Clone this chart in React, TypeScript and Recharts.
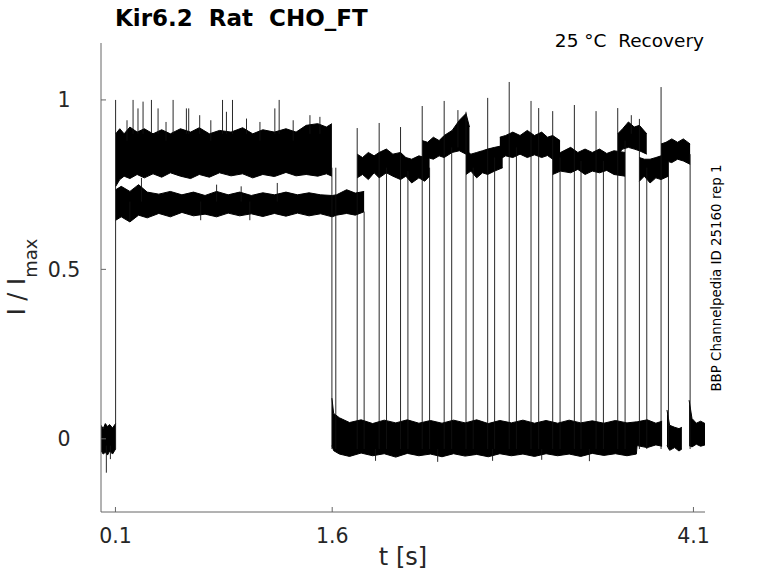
import { Area, ComposedChart, Line, XAxis, YAxis } from 'recharts'

// [t (s), low, high]
type Seg = [number, number, number]

const xTicks = [0.1, 1.6, 4.1]
const yTicks = [0, 0.5, 1]

// noise envelopes of the baseline (closed channel)
const baselinePre: Seg[] = [
  [0, -0.035, 0.04],
  [0.015, -0.045, 0.03],
  [0.03, -0.04, 0.045],
  [0.045, -0.048, 0.036],
  [0.06, -0.036, 0.042],
  [0.08, -0.045, 0.032],
  [0.101, -0.03, 0.045],
]
const baselinePost: Seg[] = [
  [1.598, -0.02, 0.12],
  [1.61, -0.035, 0.075],
  [1.65, -0.045, 0.062],
  [1.72, -0.052, 0.048],
  [1.8, -0.042, 0.056],
  [1.88, -0.05, 0.045],
  [1.96, -0.044, 0.055],
  [2.04, -0.054, 0.047],
  [2.12, -0.043, 0.056],
  [2.2, -0.05, 0.046],
  [2.28, -0.045, 0.054],
  [2.36, -0.053, 0.046],
  [2.44, -0.044, 0.055],
  [2.52, -0.051, 0.047],
  [2.6, -0.046, 0.056],
  [2.68, -0.053, 0.045],
  [2.76, -0.044, 0.054],
  [2.84, -0.05, 0.047],
  [2.92, -0.045, 0.055],
  [3.0, -0.052, 0.046],
  [3.08, -0.044, 0.054],
  [3.16, -0.05, 0.046],
  [3.24, -0.045, 0.055],
  [3.32, -0.052, 0.047],
  [3.4, -0.043, 0.053],
  [3.48, -0.049, 0.046],
  [3.56, -0.044, 0.054],
  [3.64, -0.05, 0.047],
  [3.705, -0.045, 0.05],
  [3.71, -0.02, 0.05],
  [3.78, -0.026, 0.056],
  [3.84, -0.018, 0.046],
  [3.883, -0.022, 0.052],
]
const baselineTail1: Seg[] = [
  [3.917, -0.02, 0.085],
  [3.935, -0.034, 0.04],
  [3.97, -0.026, 0.034],
  [4.0, -0.036, 0.03],
  [4.02, -0.03, 0.034],
]
const baselineTail2: Seg[] = [
  [4.07, -0.02, 0.114],
  [4.09, -0.024, 0.06],
  [4.12, -0.016, 0.046],
  [4.15, -0.022, 0.052],
  [4.18, -0.018, 0.045],
]

// conditioning pulse, two sweeps
const sweepHigh: Seg[] = [
  [0.102, 0.745, 0.9],
  [0.13, 0.765, 0.915],
  [0.16, 0.775, 0.9],
  [0.2, 0.768, 0.92],
  [0.25, 0.78, 0.905],
  [0.3, 0.77, 0.915],
  [0.36, 0.782, 0.9],
  [0.42, 0.772, 0.912],
  [0.48, 0.785, 0.9],
  [0.55, 0.775, 0.915],
  [0.62, 0.768, 0.905],
  [0.68, 0.78, 0.918],
  [0.75, 0.772, 0.9],
  [0.82, 0.785, 0.91],
  [0.9, 0.776, 0.905],
  [0.98, 0.782, 0.918],
  [1.05, 0.77, 0.9],
  [1.12, 0.78, 0.912],
  [1.2, 0.774, 0.905],
  [1.28, 0.786, 0.915],
  [1.35, 0.776, 0.905],
  [1.42, 0.78, 0.925],
  [1.5, 0.775, 0.93],
  [1.56, 0.782, 0.92],
  [1.598, 0.775, 0.93],
]
const sweepLow: Seg[] = [
  [0.102, 0.645, 0.735],
  [0.14, 0.655, 0.745],
  [0.2, 0.64, 0.73],
  [0.26, 0.66, 0.75],
  [0.32, 0.652, 0.728],
  [0.4, 0.665, 0.722],
  [0.48, 0.655, 0.73],
  [0.56, 0.668, 0.72],
  [0.64, 0.658, 0.728],
  [0.72, 0.663, 0.718],
  [0.8, 0.655, 0.73],
  [0.88, 0.666, 0.72],
  [0.96, 0.658, 0.728],
  [1.04, 0.664, 0.718],
  [1.12, 0.656, 0.726],
  [1.2, 0.665, 0.72],
  [1.28, 0.657, 0.728],
  [1.36, 0.666, 0.72],
  [1.44, 0.658, 0.726],
  [1.52, 0.664, 0.72],
  [1.6, 0.655, 0.718],
  [1.63, 0.66, 0.72],
  [1.7, 0.665, 0.735],
  [1.76, 0.66, 0.725],
  [1.821, 0.67, 0.73],
]

// recovery test pulses
const test1: Seg[] = [
  [1.773, 0.77, 0.84],
  [1.81, 0.78, 0.83],
  [1.85, 0.765, 0.845],
  [1.89, 0.785, 0.835],
  [1.925, 0.77, 0.845],
  [1.975, 0.785, 0.855],
  [2.02, 0.775, 0.84],
  [2.073, 0.765, 0.845],
  [2.11, 0.775, 0.83],
  [2.15, 0.755, 0.825],
  [2.2, 0.77, 0.835],
  [2.24, 0.76, 0.83],
  [2.274, 0.775, 0.83],
]
const test2: Seg[] = [
  [2.223, 0.82, 0.88],
  [2.26, 0.83, 0.875],
  [2.3, 0.825, 0.89],
  [2.34, 0.835, 0.88],
  [2.375, 0.83, 0.895],
  [2.43, 0.845, 0.91],
  [2.48, 0.85, 0.94],
  [2.526, 0.84, 0.96],
  [2.55, 0.83, 0.92],
]
const test3: Seg[] = [
  [2.526, 0.78, 0.85],
  [2.56, 0.79, 0.84],
  [2.6, 0.77, 0.845],
  [2.64, 0.785, 0.85],
  [2.676, 0.78, 0.855],
  [2.724, 0.79, 0.86],
  [2.78, 0.8, 0.865],
]
const test4: Seg[] = [
  [2.76, 0.825, 0.89],
  [2.8, 0.835, 0.895],
  [2.85, 0.83, 0.905],
  [2.9, 0.84, 0.895],
  [2.95, 0.83, 0.91],
  [3.0, 0.838, 0.895],
  [3.05, 0.83, 0.905],
  [3.09, 0.836, 0.89],
  [3.126, 0.825, 0.895],
  [3.177, 0.82, 0.88],
]
const test5: Seg[] = [
  [3.126, 0.78, 0.85],
  [3.18, 0.79, 0.845],
  [3.25, 0.785, 0.86],
  [3.3, 0.795, 0.845],
  [3.35, 0.78, 0.855],
  [3.4, 0.79, 0.845],
  [3.45, 0.785, 0.855],
  [3.5, 0.792, 0.842],
  [3.55, 0.78, 0.85],
  [3.627, 0.775, 0.845],
]
const test6: Seg[] = [
  [3.576, 0.84, 0.9],
  [3.61, 0.855, 0.915],
  [3.65, 0.86, 0.935],
  [3.69, 0.855, 0.92],
  [3.726, 0.85, 0.925],
  [3.777, 0.84, 0.9],
]
const test7: Seg[] = [
  [3.726, 0.76, 0.83],
  [3.76, 0.775, 0.825],
  [3.8, 0.755, 0.825],
  [3.84, 0.77, 0.83],
  [3.876, 0.765, 0.835],
  [3.927, 0.775, 0.835],
]
const test8: Seg[] = [
  [3.876, 0.81, 0.87],
  [3.91, 0.82, 0.875],
  [3.95, 0.815, 0.885],
  [3.99, 0.825, 0.875],
  [4.03, 0.82, 0.885],
  [4.077, 0.81, 0.87],
]

// on/off transitions, with the capacitive spike where there is one
const steps: Seg[] = [
  [0.101, -0.03, 1.0],
  [1.598, -0.03, 0.8],
  [1.625, -0.03, 0.8],
  [1.773, -0.03, 0.917],
  [1.821, -0.03, 0.67],
  [1.925, -0.03, 0.932],
  [1.976, -0.03, 0.8],
  [2.073, -0.03, 0.92],
  [2.124, -0.03, 0.79],
  [2.223, -0.03, 0.982],
  [2.274, -0.03, 0.8],
  [2.375, -0.03, 0.997],
  [2.427, -0.03, 0.86],
  [2.526, -0.03, 0.965],
  [2.576, -0.03, 0.8],
  [2.676, -0.03, 1.006],
  [2.724, -0.03, 0.83],
  [2.825, -0.03, 1.053],
  [2.875, -0.03, 0.86],
  [2.976, -0.03, 0.997],
  [3.029, -0.03, 0.976],
  [3.126, -0.03, 0.967],
  [3.177, -0.03, 0.83],
  [3.276, -0.03, 0.985],
  [3.322, -0.03, 0.82],
  [3.426, -0.03, 0.967],
  [3.477, -0.03, 0.82],
  [3.576, -0.03, 0.976],
  [3.627, -0.03, 0.88],
  [3.726, -0.03, 0.944],
  [3.777, -0.03, 0.8],
  [3.876, -0.03, 1.038],
  [3.927, -0.03, 0.82],
  [4.077, -0.03, 0.84],
]

// single-sample noise spikes sticking out of the bands
const spikes: Seg[] = [
  [0.037, -0.1, -0.02],
  [0.065, -0.06, -0.02],
  [0.222, 0.9, 1.0],
  [0.256, 0.9, 0.975],
  [0.291, 0.9, 0.995],
  [0.349, 0.9, 1.0],
  [0.395, 0.9, 0.975],
  [0.499, 0.9, 1.0],
  [0.591, 0.9, 0.975],
  [0.607, 0.9, 0.975],
  [0.683, 0.9, 0.955],
  [0.841, 0.9, 1.0],
  [0.868, 0.9, 0.965],
  [0.91, 0.9, 1.0],
  [1.007, 0.9, 0.945],
  [1.203, 0.9, 0.975],
  [1.233, 0.9, 1.0],
  [1.446, 0.9, 0.955],
  [1.515, 0.9, 0.95],
  [0.18, 0.88, 0.94],
  [0.45, 0.88, 0.935],
  [0.76, 0.88, 0.94],
  [1.1, 0.88, 0.935],
  [1.33, 0.88, 0.94],
  [0.2, 0.64, 0.7],
  [0.28, 0.7, 0.77],
  [0.69, 0.645, 0.7],
  [0.8, 0.7, 0.75],
  [0.97, 0.7, 0.745],
  [1.03, 0.645, 0.7],
  [1.22, 0.7, 0.755],
  [1.9, -0.065, -0.03],
  [2.33, -0.068, -0.03],
  [2.71, -0.065, -0.03],
  [3.05, -0.062, -0.03],
  [3.38, -0.066, -0.03],
  [2.47, 0.86, 0.97],
  [3.67, 0.9, 0.955],
]

const bands = [
  baselinePre,
  baselinePost,
  baselineTail1,
  baselineTail2,
  sweepHigh,
  sweepLow,
  test1,
  test2,
  test3,
  test4,
  test5,
  test6,
  test7,
  test8,
]

const toBand = (seg: Seg[]) => seg.map(([t, lo, hi]) => ({ t, r: [lo, hi] }))
const toStrokes = (seg: Seg[]) =>
  seg.flatMap(([t, lo, hi]) => [
    { t, v: lo },
    { t, v: hi },
    { t, v: null },
  ])

const font = 'DejaVu Sans'
const axisGrey = '#666666'
const textGrey = '#262626'
const nb = '\u00a0'

const XTick = ({ x, payload }: any) => (
  <text x={x} y={543} textAnchor='middle' fontSize={20.5} fill={textGrey} fontFamily={font}>
    {payload.value}
  </text>
)

const YTick = ({ y, payload }: any) => (
  <text x={64} y={y} dy='0.36em' textAnchor='middle' fontSize={20.5} fill={textGrey} fontFamily={font}>
    {payload.value}
  </text>
)

export default function App() {
  return (
    <div style={{ position: 'relative', width: 778, height: 583, background: '#fff' }}>
      <style>{'body{margin:0}'}</style>
      <ComposedChart width={778} height={583} margin={{ top: 43, right: 73, bottom: 0, left: 0 }}>
        <XAxis
          type='number'
          dataKey='t'
          domain={[0, 4.18]}
          ticks={xTicks}
          allowDataOverflow
          height={71}
          stroke={axisGrey}
          tickSize={-5}
          tick={<XTick />}
        />
        <YAxis
          type='number'
          domain={[-0.216, 1.168]}
          ticks={yTicks}
          allowDataOverflow
          width={101}
          stroke={axisGrey}
          tickSize={-5}
          tick={<YTick />}
        />
        {bands.map((b, i) => (
          <Area
            key={i}
            data={toBand(b)}
            dataKey='r'
            type='linear'
            fill='#000'
            fillOpacity={1}
            stroke='#000'
            strokeWidth={1}
            dot={false}
            activeDot={false}
            isAnimationActive={false}
          />
        ))}
        <Line
          data={toStrokes([...steps, ...spikes])}
          dataKey='v'
          type='linear'
          stroke='#111'
          strokeWidth={0.9}
          dot={false}
          activeDot={false}
          connectNulls={false}
          isAnimationActive={false}
        />
      </ComposedChart>
      <svg
        width={778}
        height={583}
        style={{ position: 'absolute', left: 0, top: 0, pointerEvents: 'none' }}
        fontFamily={font}
      >
        <text x={115} y={26} fontSize={23} fontWeight='bold' fill='#000'>
          {`Kir6.2${nb} Rat${nb} CHO_FT`}
        </text>
        <text x={704} y={47} textAnchor='end' fontSize={18.5} fill='#000'>
          {`25 °C${nb} Recovery`}
        </text>
        <text transform='translate(721,278) rotate(-90)' textAnchor='middle' fontSize={13.4} fill='#000'>
          BBP Channelpedia ID 25160 rep 1
        </text>
        <text x={403} y={565} textAnchor='middle' fontSize={24} fill={textGrey}>
          t [s]
        </text>
        <text transform='translate(25,277) rotate(-90)' textAnchor='middle' fontSize={24} fill={textGrey}>
          <tspan>I / I</tspan>
          <tspan fontSize={18} dy={12}>
            max
          </tspan>
        </text>
      </svg>
    </div>
  )
}
